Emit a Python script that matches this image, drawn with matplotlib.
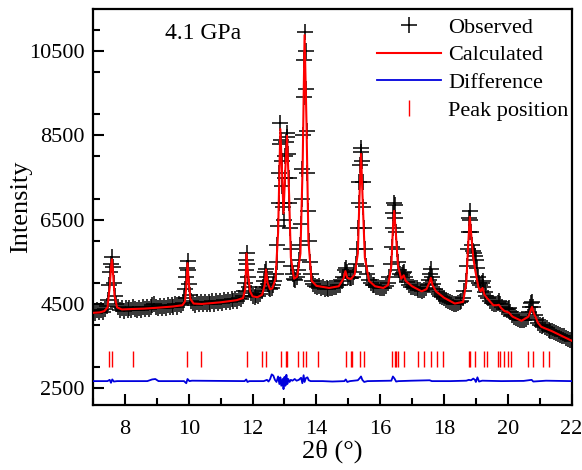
import numpy as np
import matplotlib
matplotlib.use("Agg")
import matplotlib.pyplot as plt
from matplotlib.ticker import MultipleLocator

plt.rcParams['font.family'] = ['Liberation Serif', 'DejaVu Serif']

# observed pattern (2theta, intensity)
observed = np.array([
    (7.00, 4330), (7.06, 4280), (7.12, 4350), (7.18, 4300), (7.24, 4360), (7.30, 4320), (7.36, 4380), (7.42, 4450),
    (7.46, 4600), (7.50, 4950), (7.53, 5250), (7.56, 5450), (7.59, 5620), (7.62, 5380), (7.65, 5000), (7.68, 4700),
    (7.72, 4500), (7.78, 4430), (7.84, 4360), (7.90, 4410), (7.96, 4340), (8.02, 4400), (8.08, 4350), (8.14, 4410),
    (8.20, 4360), (8.26, 4420), (8.32, 4370), (8.38, 4350), (8.44, 4410), (8.50, 4360), (8.56, 4420), (8.62, 4370),
    (8.68, 4430), (8.74, 4390), (8.80, 4440), (8.86, 4480), (8.92, 4490), (8.98, 4430), (9.04, 4400), (9.10, 4450),
    (9.16, 4400), (9.22, 4460), (9.28, 4410), (9.34, 4470), (9.40, 4420), (9.46, 4480), (9.52, 4430), (9.58, 4490),
    (9.64, 4440), (9.70, 4500), (9.76, 4470), (9.82, 4530), (9.86, 4650), (9.89, 4850), (9.92, 5150), (9.94, 5350),
    (9.96, 5530), (9.98, 5300), (10.01, 4980), (10.04, 4720), (10.08, 4580), (10.14, 4520), (10.20, 4480),
    (10.26, 4540), (10.32, 4490), (10.38, 4550), (10.44, 4500), (10.50, 4540), (10.56, 4490), (10.62, 4550),
    (10.68, 4500), (10.74, 4560), (10.80, 4510), (10.86, 4570), (10.92, 4520), (10.98, 4580), (11.04, 4530),
    (11.10, 4590), (11.16, 4540), (11.22, 4600), (11.28, 4550), (11.34, 4610), (11.40, 4560), (11.46, 4620),
    (11.52, 4580), (11.58, 4640), (11.64, 4630), (11.70, 4680), (11.73, 4800), (11.76, 5000), (11.78, 5300),
    (11.80, 5550), (11.82, 5720), (11.84, 5450), (11.87, 5150), (11.90, 4900), (11.94, 4750), (12.00, 4690),
    (12.06, 4660), (12.12, 4710), (12.18, 4680), (12.24, 4740), (12.30, 4800), (12.34, 4900), (12.37, 5050),
    (12.40, 5250), (12.42, 5330), (12.45, 5150), (12.48, 4980), (12.52, 4880), (12.56, 4860), (12.60, 4890),
    (12.64, 4940), (12.68, 5050), (12.72, 5200), (12.75, 5500), (12.78, 5900), (12.80, 6350), (12.82, 6900),
    (12.84, 7600), (12.86, 8300), (12.87, 8800), (12.89, 8400), (12.91, 7900), (12.93, 7300), (12.95, 6800),
    (12.97, 6500), (12.99, 6900), (13.01, 7500), (13.03, 8000), (13.05, 8350), (13.07, 8550), (13.09, 8450),
    (13.11, 8050), (13.13, 7500), (13.15, 6900), (13.17, 6300), (13.19, 5800), (13.22, 5400), (13.26, 5200),
    (13.30, 5100), (13.34, 5080), (13.38, 5150), (13.42, 5300), (13.46, 5550), (13.49, 5900), (13.52, 6400),
    (13.54, 7000), (13.56, 7700), (13.58, 8500), (13.60, 9400), (13.62, 10300), (13.64, 10950), (13.66, 10500),
    (13.68, 9600), (13.70, 8600), (13.72, 7600), (13.74, 6700), (13.76, 6000), (13.79, 5500), (13.82, 5200),
    (13.86, 5050), (13.90, 4980), (13.96, 4930), (14.02, 4900), (14.08, 4920), (14.14, 4870), (14.20, 4900),
    (14.26, 4860), (14.32, 4890), (14.38, 4860), (14.44, 4890), (14.50, 4870), (14.56, 4900), (14.62, 4900),
    (14.68, 4940), (14.74, 4960), (14.80, 5050), (14.85, 5150), (14.89, 5300), (14.92, 5360), (14.95, 5250),
    (14.99, 5150), (15.04, 5110), (15.09, 5120), (15.14, 5150), (15.19, 5250), (15.23, 5450), (15.27, 5800),
    (15.30, 6300), (15.33, 6900), (15.35, 7400), (15.37, 7800), (15.39, 8100), (15.41, 8200), (15.43, 7900),
    (15.45, 7400), (15.47, 6800), (15.49, 6300), (15.52, 5800), (15.55, 5400), (15.59, 5200), (15.64, 5080),
    (15.70, 5000), (15.76, 4950), (15.82, 4940), (15.88, 4900), (15.94, 4910), (16.00, 4870), (16.06, 4890),
    (16.12, 4890), (16.18, 4930), (16.24, 4990), (16.29, 5150), (16.33, 5450), (16.36, 5850), (16.39, 6300),
    (16.41, 6650), (16.43, 6900), (16.45, 6850), (16.47, 6550), (16.49, 6200), (16.52, 5800), (16.55, 5500),
    (16.59, 5300), (16.63, 5200), (16.67, 5180), (16.71, 5230), (16.75, 5270), (16.79, 5150), (16.84, 5020),
    (16.90, 4950), (16.96, 4910), (17.02, 4910), (17.08, 4870), (17.14, 4870), (17.20, 4840), (17.26, 4840),
    (17.32, 4800), (17.38, 4840), (17.44, 4880), (17.49, 4960), (17.53, 5080), (17.56, 5200), (17.59, 5320),
    (17.62, 5150), (17.66, 4980), (17.71, 4860), (17.77, 4790), (17.83, 4740), (17.89, 4700), (17.95, 4670),
    (18.01, 4640), (18.07, 4600), (18.13, 4570), (18.19, 4550), (18.25, 4530), (18.31, 4510), (18.37, 4510),
    (18.43, 4530), (18.49, 4550), (18.55, 4580), (18.60, 4650), (18.64, 4800), (18.68, 5050), (18.71, 5400),
    (18.74, 5800), (18.77, 6200), (18.79, 6550), (18.81, 6700), (18.83, 6500), (18.85, 6200), (18.88, 5900),
    (18.91, 5750), (18.94, 5700), (18.97, 5650), (19.00, 5550), (19.03, 5350), (19.06, 5150), (19.10, 5000),
    (19.14, 4950), (19.18, 5000), (19.21, 5050), (19.24, 4900), (19.28, 4780), (19.33, 4700), (19.38, 4650),
    (19.44, 4580), (19.50, 4520), (19.56, 4490), (19.62, 4490), (19.68, 4520), (19.72, 4560), (19.76, 4490),
    (19.82, 4420), (19.88, 4380), (19.94, 4370), (20.00, 4380), (20.04, 4400), (20.08, 4320), (20.14, 4250),
    (20.20, 4200), (20.26, 4170), (20.32, 4150), (20.38, 4130), (20.44, 4120), (20.50, 4120), (20.56, 4140),
    (20.62, 4200), (20.66, 4300), (20.70, 4420), (20.74, 4520), (20.77, 4550), (20.80, 4420), (20.84, 4250),
    (20.90, 4130), (20.96, 4060), (21.02, 4000), (21.08, 3980), (21.12, 4010), (21.16, 3960), (21.22, 3920),
    (21.28, 3890), (21.34, 3870), (21.40, 3850), (21.46, 3830), (21.52, 3810), (21.58, 3790), (21.64, 3770),
    (21.70, 3750), (21.76, 3730), (21.82, 3700), (21.88, 3680), (21.94, 3650), (22.00, 3630),
])

# calculated profile
calculated = np.array([
    (7.00, 4290), (7.20, 4300), (7.35, 4330), (7.45, 4420), (7.52, 4900), (7.57, 5450), (7.59, 5560),
    (7.62, 5300), (7.67, 4700), (7.75, 4420), (7.90, 4370), (8.20, 4380), (8.60, 4390), (9.00, 4410),
    (9.50, 4440), (9.80, 4470), (9.88, 4560), (9.92, 4900), (9.96, 5470), (10.00, 5000), (10.05, 4620),
    (10.15, 4510), (10.40, 4500), (11.00, 4540), (11.50, 4590), (11.70, 4640), (11.77, 4850), (11.81, 5700),
    (11.86, 5200), (11.92, 4800), (12.00, 4680), (12.15, 4660), (12.30, 4720), (12.38, 4950), (12.42, 5320),
    (12.47, 5000), (12.55, 4850), (12.62, 4870), (12.72, 5100), (12.80, 6200), (12.87, 8650), (12.93, 7500),
    (12.97, 6650), (13.02, 7600), (13.08, 8490), (13.14, 7200), (13.20, 5600), (13.30, 5100), (13.40, 5150),
    (13.50, 5700), (13.57, 7800), (13.63, 10880), (13.69, 8800), (13.75, 6000), (13.85, 5050), (14.00, 4930),
    (14.40, 4880), (14.70, 4920), (14.85, 5100), (14.91, 5280), (14.97, 5120), (15.08, 5090), (15.20, 5200),
    (15.30, 5700), (15.35, 7000), (15.40, 8060), (15.45, 7000), (15.52, 5600), (15.65, 5050), (15.84, 4920),
    (16.10, 4880), (16.25, 4950), (16.35, 5400), (16.40, 6300), (16.44, 6710), (16.49, 6200), (16.56, 5400),
    (16.66, 5100), (16.74, 5180), (16.80, 5050), (17.00, 4920), (17.30, 4800), (17.45, 4850), (17.54, 5000),
    (17.59, 5120), (17.64, 4950), (17.75, 4800), (18.00, 4650), (18.34, 4510), (18.60, 4550), (18.70, 5000),
    (18.76, 5900), (18.81, 6570), (18.86, 6100), (18.92, 5600), (18.98, 5300), (19.08, 4900), (19.15, 4800),
    (19.21, 4880), (19.27, 4720), (19.35, 4640), (19.55, 4470), (19.65, 4470), (19.72, 4480), (19.80, 4400),
    (19.90, 4330), (20.03, 4300), (20.15, 4200), (20.43, 4100), (20.65, 4200), (20.72, 4350), (20.76, 4430),
    (20.82, 4280), (20.95, 4050), (21.05, 3960), (21.40, 3850), (21.70, 3740), (22.00, 3630),
])

# difference curve (offset)
difference = np.array([
    (7.00, 2670), (7.45, 2670), (7.52, 2700), (7.56, 2630), (7.60, 2710), (7.65, 2660), (7.75, 2670),
    (8.70, 2670), (8.85, 2710), (8.95, 2720), (9.05, 2670), (9.85, 2670), (9.92, 2620), (9.96, 2720),
    (10.02, 2670), (10.10, 2680), (11.75, 2670), (11.80, 2710), (11.84, 2650), (11.90, 2670), (12.35, 2670),
    (12.45, 2700), (12.50, 2660), (12.55, 2720), (12.60, 2830), (12.65, 2800), (12.70, 2700), (12.75, 2650),
    (12.80, 2780), (12.84, 2600), (12.87, 2760), (12.90, 2560), (12.94, 2720), (12.97, 2480), (13.00, 2770),
    (13.03, 2560), (13.06, 2820), (13.09, 2600), (13.12, 2720), (13.16, 2650), (13.20, 2700), (13.25, 2680),
    (13.32, 2720), (13.38, 2680), (13.45, 2700), (13.52, 2750), (13.56, 2620), (13.60, 2810), (13.63, 2650),
    (13.67, 2740), (13.72, 2760), (13.76, 2690), (13.82, 2670), (14.20, 2670), (14.50, 2660), (14.88, 2670),
    (14.92, 2710), (14.97, 2650), (15.05, 2670), (15.30, 2690), (15.36, 2740), (15.40, 2780), (15.44, 2700),
    (15.50, 2650), (15.60, 2670), (16.35, 2680), (16.40, 2780), (16.45, 2730), (16.50, 2660), (16.58, 2670),
    (17.00, 2680), (17.55, 2690), (17.62, 2670), (18.20, 2670), (18.70, 2680), (18.78, 2700), (18.85, 2690),
    (18.92, 2730), (18.97, 2700), (19.00, 2650), (19.05, 2760), (19.10, 2660), (19.20, 2680), (19.80, 2670),
    (20.50, 2675), (20.75, 2700), (20.80, 2660), (21.20, 2680), (22.00, 2670),
])

peak_pos = [7.50, 7.60, 8.25, 9.95, 10.38, 11.82, 12.29, 12.42, 12.88, 13.04, 13.08, 13.42, 13.58, 13.66,
            14.05, 14.92, 15.07, 15.13, 15.38, 15.48, 16.38, 16.46, 16.51, 16.57, 16.76, 17.19, 17.36,
            17.60, 17.79, 17.98, 18.77, 18.82, 18.98, 19.25, 19.34, 19.70, 19.75, 19.88, 20.01, 20.10,
            20.63, 20.78, 21.12, 21.30]
peak_level = 3205

fig = plt.figure(figsize=(5.82, 4.70), dpi=100)
ax = fig.add_axes([0.160, 0.138, 0.822, 0.843])

ax.plot(observed[:, 0], observed[:, 1], '+', color='black', markersize=11, markeredgewidth=1.1,
        label='Observed', zorder=2)
ax.plot(calculated[:, 0], calculated[:, 1], color='red', lw=1.5, label='Calculated', zorder=3)
ax.plot(difference[:, 0], difference[:, 1], color='#0000dd', lw=1.3, label='Difference', zorder=3)
ax.plot(peak_pos, [peak_level] * len(peak_pos), '|', color='red', markersize=11, markeredgewidth=1.0,
        label='Peak position', zorder=3)

ax.set_xlim(7, 22)
ax.set_ylim(2100, 11500)
ax.set_xticks(range(8, 23, 2))
ax.set_yticks([2500, 4500, 6500, 8500, 10500])
ax.xaxis.set_minor_locator(MultipleLocator(1))
ax.yaxis.set_minor_locator(MultipleLocator(1000))
ax.tick_params(which='both', direction='in', width=1.5, labelsize=16, top=False, right=False)
ax.tick_params(which='major', length=8)
ax.tick_params(which='minor', length=5)
ax.tick_params(axis='x', which='major', pad=11)
ax.tick_params(axis='y', which='major', pad=6)
for s in ax.spines.values():
    s.set_linewidth(1.6)

ax.set_xlabel('2θ (°)', fontsize=19, labelpad=0)
ax.set_ylabel('Intensity', fontsize=19, labelpad=-2)
ax.text(9.25, 10920, '4.1 GPa', fontsize=17, va='center')

ax.legend(loc='upper right', bbox_to_anchor=(0.998, 0.985), frameon=False, fontsize=16, handlelength=2.9,
          handletextpad=0.3, labelspacing=0.32, borderaxespad=0.0, borderpad=0.1)

fig.savefig('out.png', dpi=100)
